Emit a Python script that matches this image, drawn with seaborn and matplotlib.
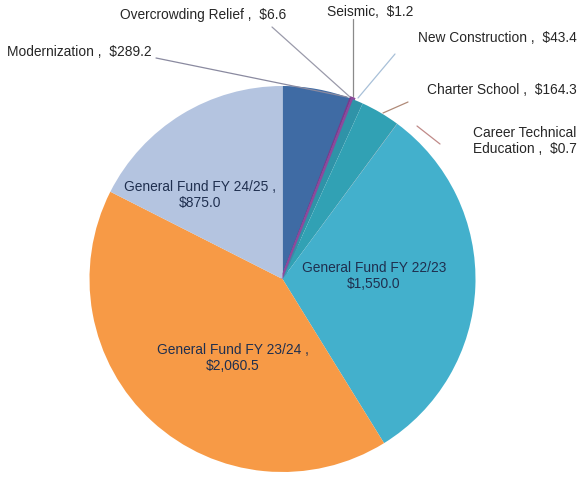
import matplotlib
matplotlib.use("Agg")
import matplotlib.pyplot as plt
import seaborn as sns

categories = ["Modernization", "Overcrowding Relief", "Seismic", "New Construction",
              "Charter School", "Career Technical\nEducation", "General Fund FY 22/23",
              "General Fund FY 23/24", "General Fund FY 24/25"]
values = [289.2, 6.6, 1.2, 43.4, 164.3, 0.7, 1550.0, 2060.5, 875.0]
value_labels = ["$289.2", "$6.6", "$1.2", "$43.4", "$164.3", "$0.7", "$1,550.0", "$2,060.5", "$875.0"]
separators = [" ,  ", " ,  ", ",  ", " ,  ", " ,  ", " ,  ", "\n", " ,\n", " ,\n"]

colors = ["#3f6ba4", "#7a3a8c", "#8c4a9c", "#2f93a8", "#31a1b4", "#c0504d",
          "#43b0cc", "#f79a46", "#b4c4e0"]

sns.set_theme(style="white")
plt.rcParams['font.family'] = ['Liberation Sans', 'DejaVu Sans']

W, H = 583, 481
fig = plt.figure(figsize=(W / 100, H / 100), dpi=100)
ax = fig.add_axes([0, 0, 1, 1])

def Y(y):
    return H - y

cx, cy, r = 282.5, 280, 193
wedges, _ = ax.pie(values, colors=colors, startangle=90, counterclock=False,
                   center=(cx, Y(cy)), radius=r, frame=True,
                   wedgeprops=dict(linewidth=0))
# thin slivers drawn slightly wider, as in the reference
for i in (1, 2):
    wedges[i].set_edgecolor(colors[i])
    wedges[i].set_linewidth(2.8)
ax.set_xlim(0, W)
ax.set_ylim(0, H)
ax.set_aspect('equal')
ax.axis('off')

fs = 9.9
tc = "#262626"

# inside labels
inside = {6: (374, 276), 7: (233, 358), 8: (200, 195)}
for i, (x, y) in inside.items():
    ax.text(x, Y(y), categories[i] + separators[i] + value_labels[i], ha='center',
            va='center', fontsize=fs, color="#1f2f4f", linespacing=1.1)

# outside labels: (text x, text y, ha, line start, line end, line color)
outside = {
    0: (7, 52, 'left', (156, 59), (347, 98), "#8a8aa0"),
    1: (120, 15, 'left', (272, 28), (350, 98), "#9a9aaa"),
    2: (327, 12, 'left', (353, 20), (353, 97), "#8a8a8a"),
    3: (577, 38, 'right', (395, 55), (358, 99), "#a8c0d8"),
    4: (577, 90, 'right', (408, 103), (383, 114), "#b08a78"),
    5: (577, 141, 'right', (417, 127), (440, 145), "#c08a88"),
}
for i, (x, y, ha, p0, p1, lc) in outside.items():
    ax.plot([p0[0], p1[0]], [Y(p0[1]), Y(p1[1])], color=lc, lw=0.9)
    ax.text(x, Y(y), categories[i] + separators[i] + value_labels[i], ha=ha, va='center',
            fontsize=fs, color=tc, linespacing=1.1, multialignment='left')

fig.savefig("out.png", dpi=100)
